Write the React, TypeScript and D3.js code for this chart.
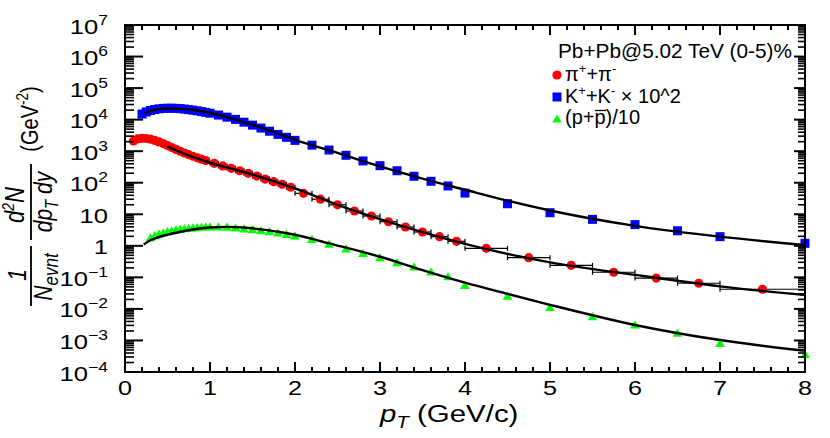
import * as d3 from "d3";

// pi+ + pi- spectrum
const piPt = [0.1, 0.15, 0.2, 0.25, 0.3, 0.35, 0.4, 0.45, 0.5, 0.55, 0.6, 0.65, 0.7, 0.75, 0.8, 0.85, 0.9, 0.95,
  1.05, 1.15, 1.25, 1.35, 1.45, 1.55, 1.65, 1.75, 1.85, 1.95,
  2.1, 2.3, 2.5, 2.7, 2.9, 3.1, 3.3, 3.5, 3.7, 3.9,
  4.25, 4.75, 5.25, 5.75, 6.25, 6.75, 7.5];
const piVal = [2100, 2450, 2550, 2520, 2400, 2200, 1970, 1740, 1510, 1310, 1140, 995, 876, 775, 690, 618, 556, 503,
  412, 342, 286, 240, 199, 163, 131, 108, 89, 72,
  46, 30, 20, 12.7, 8.8, 5.8, 3.95, 2.74, 1.95, 1.39,
  0.83, 0.42, 0.24, 0.145, 0.095, 0.065, 0.042];
const piErrX = [0.025, 0.025, 0.025, 0.025, 0.025, 0.025, 0.025, 0.025, 0.025, 0.025, 0.025, 0.025, 0.025, 0.025, 0.025, 0.025, 0.025, 0.025,
  0.05, 0.05, 0.05, 0.05, 0.05, 0.05, 0.05, 0.05, 0.05, 0.05,
  0.1, 0.1, 0.1, 0.1, 0.1, 0.1, 0.1, 0.1, 0.1, 0.1,
  0.25, 0.25, 0.25, 0.25, 0.25, 0.25, 0.5];

// K+ + K- (x 10^2)
const kaPt = [0.2, 0.25, 0.3, 0.35, 0.4, 0.45, 0.5, 0.55, 0.6, 0.65, 0.7, 0.75, 0.8, 0.85, 0.9, 0.95, 1.0,
  1.1, 1.2, 1.3, 1.4, 1.5, 1.6, 1.7, 1.8, 1.9, 2.0,
  2.2, 2.4, 2.6, 2.8, 3.0, 3.2, 3.4, 3.6, 3.8, 4.0,
  4.5, 5.0, 5.5, 6.0, 6.5, 7.0, 8.0];
const kaVal = [15000, 17500, 19500, 21000, 22000, 22700, 23000, 23000, 22800, 22300, 21600, 20800, 20000, 19000, 18000, 17000, 16000,
  14000, 12000, 10200, 8300, 6700, 5400, 4300, 3400, 2750, 2200,
  1550, 1090, 740, 490, 347, 240, 160, 111, 79, 47,
  21.6, 11.2, 6.9, 4.7, 3.0, 1.95, 1.2];

// (p + pbar) / 10
const prPt = [0.3, 0.35, 0.4, 0.45, 0.5, 0.55, 0.6, 0.65, 0.7, 0.75, 0.8, 0.85, 0.9, 0.95, 1.0,
  1.1, 1.2, 1.3, 1.4, 1.5, 1.6, 1.7, 1.8, 1.9, 2.0,
  2.2, 2.4, 2.6, 2.8, 3.0, 3.2, 3.4, 3.6, 3.8, 4.0,
  4.5, 5.0, 5.5, 6.0, 6.5, 7.0, 8.0];
const prVal = [1.8, 2.1, 2.35, 2.6, 2.8, 3.0, 3.2, 3.35, 3.5, 3.6, 3.7, 3.8, 3.9, 3.95, 4.0,
  4.0, 3.9, 3.7, 3.45, 3.25, 3.05, 2.8, 2.55, 2.3, 2.05,
  1.6, 1.12, 0.8, 0.579, 0.42, 0.292, 0.213, 0.148, 0.105, 0.056,
  0.0256, 0.0112, 0.00566, 0.00309, 0.00169, 0.000813, 0.000364];

// fit curves
const piFitPt = [0.5, 0.75, 1.0, 1.25, 1.5, 2.0, 2.5, 3.0, 3.5, 4.0, 5.0, 6.0, 7.0, 8.0];
const piFitVal = [1400, 740, 430, 280, 182, 66, 20, 7.0, 2.7, 1.15, 0.3, 0.12, 0.052, 0.0276];
const kaFitPt = [0.23, 0.3, 0.4, 0.55, 0.7, 0.85, 1.0, 1.3, 1.6, 2.0, 2.5, 3.0, 3.5, 4.0, 4.5, 5.0, 6.0, 7.0, 8.0];
const kaFitVal = [15900, 19000, 21500, 22500, 21500, 19500, 16500, 10000, 5600, 2300, 880, 330, 135, 60, 27, 13.2, 4.3, 1.95, 1.06];
const prFitPt = [0.22, 0.3, 0.4, 0.5, 0.6, 0.8, 1.0, 1.2, 1.4, 1.6, 1.8, 2.0, 2.4, 3.0, 3.5, 4.0, 4.5, 5.0, 6.0, 7.0, 8.0];
const prFitVal = [1.1, 1.5, 1.9, 2.25, 2.6, 3.3, 3.8, 4.0, 3.8, 3.3, 2.8, 2.25, 1.2, 0.45, 0.17, 0.068, 0.03, 0.0135, 0.0031, 0.00103, 0.00047];

const xTickVals = [0, 1, 2, 3, 4, 5, 6, 7, 8];
const xTickLabels = ["0", "1", "2", "3", "4", "5", "6", "7", "8"];
const yDecades = [-4, -3, -2, -1, 0, 1, 2, 3, 4, 5, 6, 7];

const W = 830;
const H = 438;
const L = 125, R = 805, T = 25, B = 372;
const FONT = "'Liberation Sans', Arial, Helvetica, sans-serif";

const x = d3.scaleLinear().domain([0, 8]).range([L, R]);
const y = d3.scaleLog().domain([1e-4, 1e7]).range([B, T]);

const fitLine = (pts: number[], vals: number[]) =>
  d3.line<number>()
    .x((d) => x(d))
    .y((_, i) => y(vals[i]))
    .curve(d3.curveMonotoneX)(pts) as string;

const xMinor = d3.range(0, 8.001, 0.2).filter((v) => Math.abs(v - Math.round(v)) > 1e-6);
const yMinor = yDecades.slice(0, -1).flatMap((d) => [2, 3, 4, 5, 6, 7, 8, 9].map((k) => k * Math.pow(10, d)));

function YLabel({ d }: { d: number }) {
  const yy = y(Math.pow(10, d)) + 8.5;
  return (
    <text transform={`translate(108,${yy}) scale(1.25,1)`} textAnchor="end" fontSize={20.5}>
      {d === 0 ? "1" : d === 1 ? "10" : (
        <>
          <tspan>10</tspan>
          <tspan fontSize={14} dy={-9}>{d < 0 ? `\u2212${-d}` : `${d}`}</tspan>
        </>
      )}
    </text>
  );
}

const tri = "M0,-4.6L4.8,3.6L-4.8,3.6Z";

export default function App() {
  const sx = 1.22;
  return (
    <svg width={W} height={H} style={{ position: "absolute", left: 0, top: 0, background: "#fff" }}
      fontFamily={FONT}>
      <rect width={W} height={H} fill="#fff" />

      {/* pion x error bars */}
      <g stroke="#000" strokeWidth={1.2}>
        {piPt.map((p, i) => {
          const yy = y(piVal[i]);
          const x0 = x(p - piErrX[i]);
          const x1 = x(p + piErrX[i]);
          return (
            <g key={i}>
              <line x1={x0} x2={x1} y1={yy} y2={yy} />
              <line x1={x0} x2={x0} y1={yy - 2.5} y2={yy + 2.5} />
              <line x1={x1} x2={x1} y1={yy - 2.5} y2={yy + 2.5} />
            </g>
          );
        })}
      </g>

      {/* markers */}
      {kaPt.map((p, i) => (
        <rect key={`k${i}`} x={x(p) - 4.5} y={y(kaVal[i]) - 4.5} width={9} height={9} fill="#0000ff" />
      ))}
      {piPt.map((p, i) => (
        <circle key={`p${i}`} cx={x(p)} cy={y(piVal[i])} r={4.6} fill="#ff0000" />
      ))}
      {prPt.map((p, i) => (
        <path key={`r${i}`} d={tri} transform={`translate(${x(p)},${y(prVal[i])})`} fill="#00ff00" />
      ))}

      {/* fits */}
      <g fill="none" stroke="#000" strokeWidth={2.4}>
        <path d={fitLine(piFitPt, piFitVal)} />
        <path d={fitLine(kaFitPt, kaFitVal)} />
        <path d={fitLine(prFitPt, prFitVal)} />
      </g>

      {/* frame and ticks */}
      <g stroke="#000" strokeWidth={2} fill="none">
        <rect x={L} y={T} width={R - L} height={B - T} />
        {xTickVals.map((v) => (
          <g key={`xt${v}`}>
            <line x1={x(v)} x2={x(v)} y1={B} y2={B - 10} />
            <line x1={x(v)} x2={x(v)} y1={T} y2={T + 10} />
          </g>
        ))}
        {xMinor.map((v, i) => (
          <g key={`xm${i}`}>
            <line x1={x(v)} x2={x(v)} y1={B} y2={B - 5} />
            <line x1={x(v)} x2={x(v)} y1={T} y2={T + 5} />
          </g>
        ))}
        {yDecades.map((d) => (
          <g key={`yt${d}`}>
            <line x1={L} x2={L + 18} y1={y(Math.pow(10, d))} y2={y(Math.pow(10, d))} />
            <line x1={R} x2={R - 11} y1={y(Math.pow(10, d))} y2={y(Math.pow(10, d))} />
          </g>
        ))}
        {yMinor.map((v, i) => (
          <g key={`ym${i}`} strokeWidth={1.6}>
            <line x1={L} x2={L + 9} y1={y(v)} y2={y(v)} />
            <line x1={R} x2={R - 7} y1={y(v)} y2={y(v)} />
          </g>
        ))}
      </g>

      {/* tick labels */}
      {yDecades.map((d) => <YLabel key={`yl${d}`} d={d} />)}
      {xTickVals.map((v, i) => (
        <text key={`xl${v}`} transform={`translate(${x(v)},395) scale(1.2,1)`} textAnchor="middle" fontSize={21}>
          {xTickLabels[i]}
        </text>
      ))}

      {/* x title */}
      <text transform="translate(380,422) scale(1.28,1)" fontSize={23}>
        <tspan fontStyle="italic">p</tspan>
        <tspan fontStyle="italic" fontSize={16} dy={6}>T</tspan>
        <tspan dy={-6}> (GeV/c)</tspan>
      </text>

      {/* y title */}
      <g transform={`scale(${sx},1)`}>
        <text transform={`translate(${38 / sx},119) rotate(-90)`} textAnchor="middle" fontSize={20}>
          (GeV<tspan fontSize={13.5} dy={-8}>-2</tspan><tspan dy={8}>)</tspan>
        </text>
        <text transform={`translate(${24 / sx},205) rotate(-90)`} textAnchor="middle" fontSize={22} fontStyle="italic">
          d<tspan fontSize={14} dy={-8}>2</tspan><tspan dy={8}>N</tspan>
        </text>
        <line x1={31 / sx} x2={31 / sx} y1={164} y2={240} stroke="#000" strokeWidth={1.5} />
        <text transform={`translate(${52 / sx},202) rotate(-90)`} textAnchor="middle" fontSize={21} fontStyle="italic">
          dp<tspan fontSize={15} dy={5}>T</tspan><tspan dy={-5}> dy</tspan>
        </text>
        <text transform={`translate(${26 / sx},275) rotate(-90)`} textAnchor="middle" fontSize={21} fontStyle="italic">
          1
        </text>
        <line x1={31 / sx} x2={31 / sx} y1={246} y2={306} stroke="#000" strokeWidth={1.5} />
        <text transform={`translate(${52 / sx},277) rotate(-90)`} textAnchor="middle" fontSize={21} fontStyle="italic">
          N<tspan fontSize={17} dy={5}>evnt</tspan>
        </text>
      </g>

      {/* legend */}
      <text x={558} y={58} fontSize={20.8}>Pb+Pb@5.02 TeV (0-5)%</text>
      <circle cx={557} cy={75} r={4.6} fill="#ff0000" />
      <text x={565} y={81} fontSize={20}>
        π<tspan fontSize={13} dy={-8}>+</tspan><tspan dy={8}>+π</tspan><tspan fontSize={13} dy={-8}>-</tspan>
      </text>
      <rect x={552.5} y={92.5} width={9} height={9} fill="#0000ff" />
      <text x={565} y={103} fontSize={20}>
        K<tspan fontSize={13} dy={-8}>+</tspan><tspan dy={8}>+K</tspan><tspan fontSize={13} dy={-8}>-</tspan>
        <tspan dy={8}> × 10^2</tspan>
      </text>
      <path d={tri} transform="translate(557,119)" fill="#00ff00" />
      <text x={565} y={124} fontSize={20}>(p+p)/10</text>
      <line x1={595} x2={606} y1={110.5} y2={110.5} stroke="#000" strokeWidth={1.3} />
    </svg>
  );
}
